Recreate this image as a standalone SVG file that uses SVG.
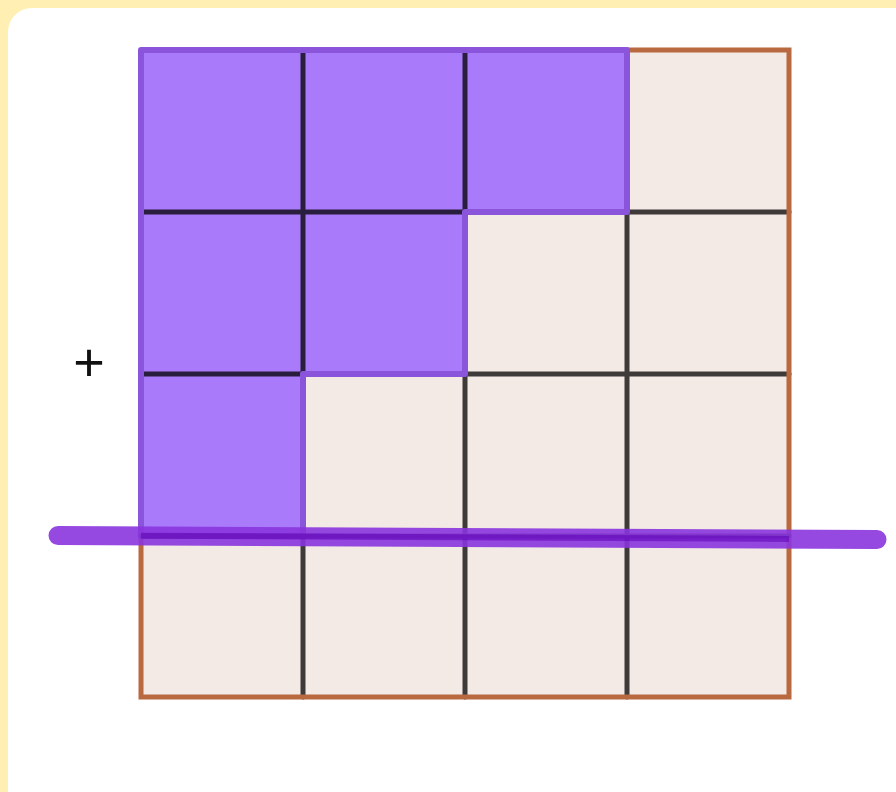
<svg xmlns="http://www.w3.org/2000/svg" width="896" height="792" viewBox="0 0 896 792">
<style>
.cell{fill:#F3E9E5}
.pcell{fill:#A97BFB}
.grid{stroke:#3E3A3A;stroke-width:5;stroke-linecap:round;fill:none}
.border{stroke:#B9693F;stroke-width:5;stroke-linecap:round;fill:none}
.pborder{stroke:#8B55DB;stroke-width:6;stroke-linejoin:round;fill:none}
.pgrid{stroke:#2A1E3E;stroke-width:5;stroke-linecap:round;fill:none}
</style>
<rect width="896" height="792" fill="#FFEFB3"/>
<rect x="8" y="8" width="910" height="810" rx="24" fill="#FFFFFF"/>
<g id="grid">
<rect class="cell" x="141" y="50" width="648" height="647"/>
<g id="staircase">
<polygon class="pcell" points="141,50 627,50 627,212 465,212 465,374 303,374 303,536 141,536"/>
</g>
<g id="lines">
<path class="grid" d="M465,212 V697 M627,212 V697 M303,374 V697 M465,212 H789 M303,374 H789"/>
<path class="pgrid" d="M303,50 V374 M465,50 V212 M141,212 H465 M141,374 H303"/>
<path class="border" d="M627,50 H789 V697 H141 V536"/>
<path class="pborder" d="M141,536 V50 H627 V212 H465 V374 H303 V536 Z"/>
<path class="grid" d="M141,536 H789"/>
</g>
</g>
<g id="cut-line">
<line x1="58" y1="535.5" x2="877" y2="539.5" stroke="#8A35DE" stroke-opacity="0.9" stroke-width="19" stroke-linecap="round"/>
<line x1="141" y1="535.7" x2="789" y2="538.9" stroke="#5E00B8" stroke-opacity="0.55" stroke-width="6"/>
</g>
<text x="89" y="381" font-family="Liberation Sans, Arial, sans-serif" font-size="54" text-anchor="middle" fill="#111111">+</text>
</svg>
